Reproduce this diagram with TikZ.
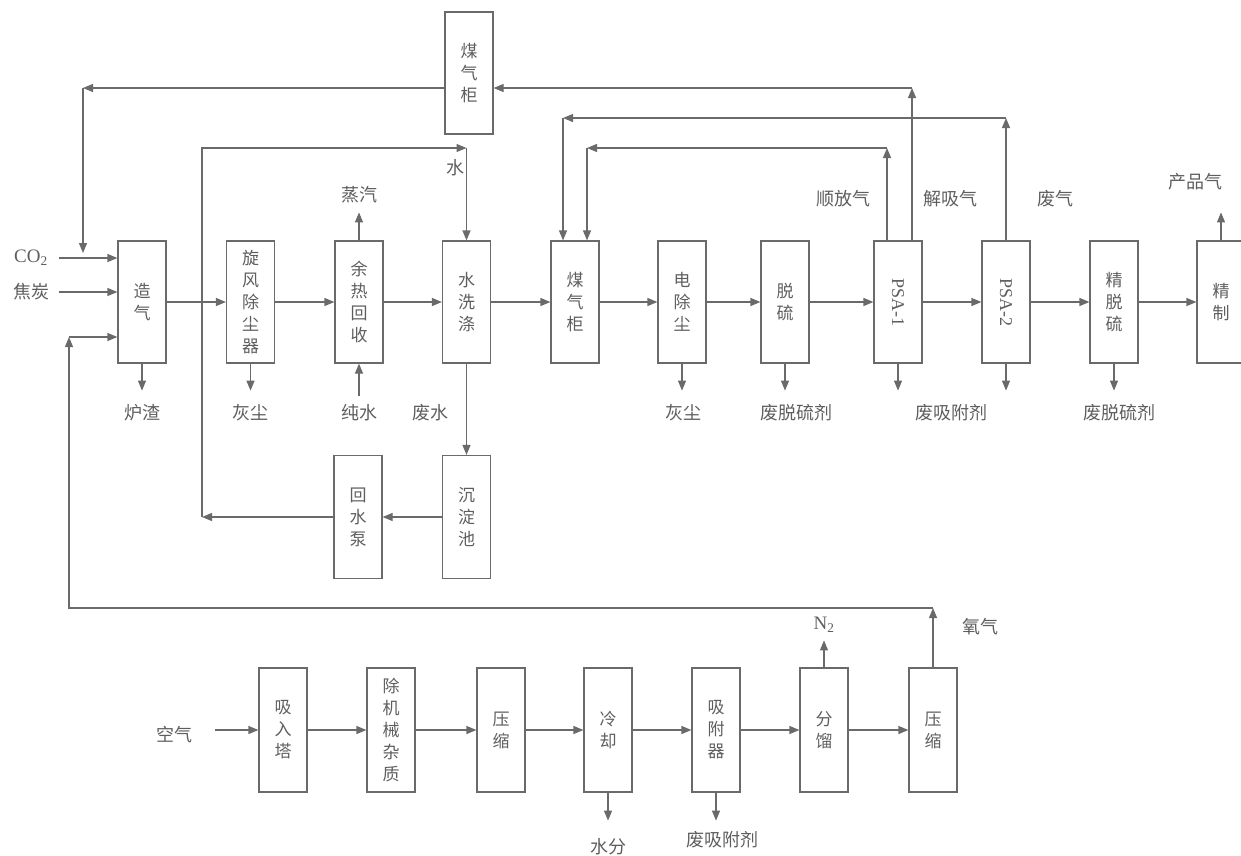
\documentclass[tikz,border=0pt]{standalone}
\usepackage{fontspec}
\setmainfont{Liberation Serif}
\newfontfamily\cjk{Noto Sans CJK SC}
\usetikzlibrary{arrows.meta}
\definecolor{ln}{HTML}{6A6A6A}
\definecolor{tx}{HTML}{5E5E5E}
\begin{document}
\begin{tikzpicture}[x=1pt,y=-1pt,
  box/.style={draw=ln, line width=1.2pt, minimum width=48pt, minimum height=122pt, inner sep=0pt, text=tx, font=\cjk\fontsize{17}{22}\selectfont, align=center},
  bbox/.style={box, minimum height=124pt},
  lab/.style={text=tx, font=\cjk\fontsize{18}{20}\selectfont, inner sep=0pt},
  latlab/.style={text=tx, font=\fontsize{19}{20}\selectfont, inner sep=0pt},
  flow/.style={draw=ln, line width=1.2pt, -{Triangle[length=10pt,width=8pt]}},
  plain/.style={draw=ln, line width=1.2pt},
]
\useasboundingbox (0,0) rectangle (1241,855);

% ---- main row boxes
\node[box] (zq) at (142,302) {造\\气};
\node[box] (xf) at (250.5,302) {旋\\风\\除\\尘\\器};
\node[box] (yr) at (359,302) {余\\热\\回\\收};
\node[box] (sx) at (466.5,302) {水\\洗\\涤};
\node[box] (mq) at (575,302) {煤\\气\\柜};
\node[box] (dc) at (682,302) {电\\除\\尘};
\node[box] (tl) at (785,302) {脱\\硫};
\node[box, font=\fontsize{18}{20}\selectfont] (p1) at (898,302) {\rotatebox{-90}{PSA-1}};
\node[box, font=\fontsize{18}{20}\selectfont] (p2) at (1006,302) {\rotatebox{-90}{PSA-2}};
\node[box] (jt) at (1114,302) {精\\脱\\硫};
\node[box] (jz) at (1221,302) {精\\制};

% ---- top gas holder
\node[box] (mqt) at (469,73) {煤\\气\\柜};

% ---- water treatment
\node[box, minimum height=123pt] (hs) at (358,517) {回\\水\\泵};
\node[box, minimum height=123pt] (cd) at (466.5,517) {沉\\淀\\池};

% ---- bottom row boxes
\node[bbox] (xr) at (283,730) {吸\\入\\塔};
\node[bbox] (cj) at (391,730) {除\\机\\械\\杂\\质};
\node[bbox] (ys1) at (501,730) {压\\缩};
\node[bbox] (lq) at (608,730) {冷\\却};
\node[bbox] (xfq) at (716,730) {吸\\附\\器};
\node[bbox] (fl) at (824,730) {分\\馏};
\node[bbox] (ys2) at (933,730) {压\\缩};

% ---- labels
\node[latlab] (lco) at (31,258) {CO\textsubscript{2}};
\node[lab] (ljt) at (31,292) {焦炭};
\node[lab] (llz) at (142,413) {炉渣};
\node[lab] (lhc1) at (250,413) {灰尘};
\node[lab] (lcs) at (359,413) {纯水};
\node[lab] (lfs) at (430,413) {废水};
\node[lab] (lzq) at (359,195) {蒸汽};
\node[lab] (ls) at (455,168) {水};
\node[lab] (lhc2) at (683,413) {灰尘};
\node[lab] (lft1) at (796,413) {废脱硫剂};
\node[lab] (lfx1) at (951,413) {废吸附剂};
\node[lab] (lft2) at (1119,413) {废脱硫剂};
\node[lab] (lsf) at (843,199) {顺放气};
\node[lab] (ljx) at (950,199) {解吸气};
\node[lab] (lfq) at (1055,199) {废气};
\node[lab] (lcp) at (1195,182) {产品气};
\node[lab] (lkq) at (174,735) {空气};
\node[lab] (lsfen) at (608,847) {水分};
\node[lab] (lfx2) at (722,840) {废吸附剂};
\node[latlab] (ln2) at (824,625) {N\textsubscript{2}};
\node[lab] (lyq) at (980,627) {氧气};

% ---- main row flow
\foreach \a/\b in {zq/xf, xf/yr, yr/sx, sx/mq, mq/dc, dc/tl, tl/p1, p1/p2, p2/jt, jt/jz}
  \draw[flow] (\a) -- (\b);

% ---- inputs to gasifier
\coordinate (i1) at (59,258);
\coordinate (i2) at (59,292);
\draw[flow] (i1) -- (i1 -| zq.west);
\draw[flow] (i2) -- (i2 -| zq.west);

% ---- side outputs main row
\draw[flow] (zq.south) -- ++(0,27);
\draw[flow] (xf.south) -- ++(0,27);
\draw[flow] (dc.south) -- ++(0,27);
\draw[flow] (tl.south) -- ++(0,27);
\draw[flow] (p1.south) -- ++(0,27);
\draw[flow] (p2.south) -- ++(0,27);
\draw[flow] (jt.south) -- ++(0,27);
\draw[flow] (yr.north) -- ++(0,-28);
\coordinate (cs) at (359,396);
\draw[flow] (cs) -- (yr.south);
\draw[flow] (jz.north) -- ++(0,-28);

% ---- water loop
\draw[flow] (sx.south) -- (cd.north);
\draw[flow] (cd) -- (hs);
\coordinate (w1) at (202,517);
\coordinate (w2) at (202,148);
\coordinate (w3) at (466.5,148);
\draw[flow] (hs.west) -- (w1);
\draw[flow] (w1) -- (w2) -- (w3);
\draw[flow] (w3) -- (sx.north);

% ---- PSA return lines
\coordinate (a1) at (887,148);
\coordinate (a2) at (587,148);
\draw[flow] ([xshift=-11pt]p1.north) -- (a1);
\draw[flow] (a1) -- (a2);
\draw[flow] (a2) -- (a2 |- mq.north);
\coordinate (b1) at (912,88);
\draw[flow] ([xshift=14pt]p1.north) -- (b1);
\draw[flow] (b1) -- (b1 -| mqt.east);
\coordinate (c1) at (83,88);
\coordinate (c2) at (83,253);
\draw[flow] (mqt.west |- b1) -- (c1);
\draw[flow] (c1) -- (c2);
\coordinate (d1) at (1006,118);
\coordinate (d2) at (563,118);
\draw[flow] (p2.north) -- (d1);
\draw[flow] (d1) -- (d2);
\draw[flow] (d2) -- (d2 |- mq.north);

% ---- bottom row flow
\coordinate (k1) at (215,730);
\draw[flow] (k1) -- (xr);
\foreach \a/\b in {xr/cj, cj/ys1, ys1/lq, lq/xfq, xfq/fl, fl/ys2}
  \draw[flow] (\a) -- (\b);
\draw[flow] (lq.south) -- ++(0,28);
\draw[flow] (xfq.south) -- ++(0,28);
\draw[flow] (fl.north) -- ++(0,-27);

% ---- oxygen to gasifier
\coordinate (o1) at (933,608);
\coordinate (o2) at (69,608);
\coordinate (o3) at (69,337);
\draw[flow] (ys2.north) -- (o1);
\draw[flow] (o1) -- (o2) -- (o3);
\draw[flow] (o3) -- (o3 -| zq.west);
\end{tikzpicture}
\end{document}
